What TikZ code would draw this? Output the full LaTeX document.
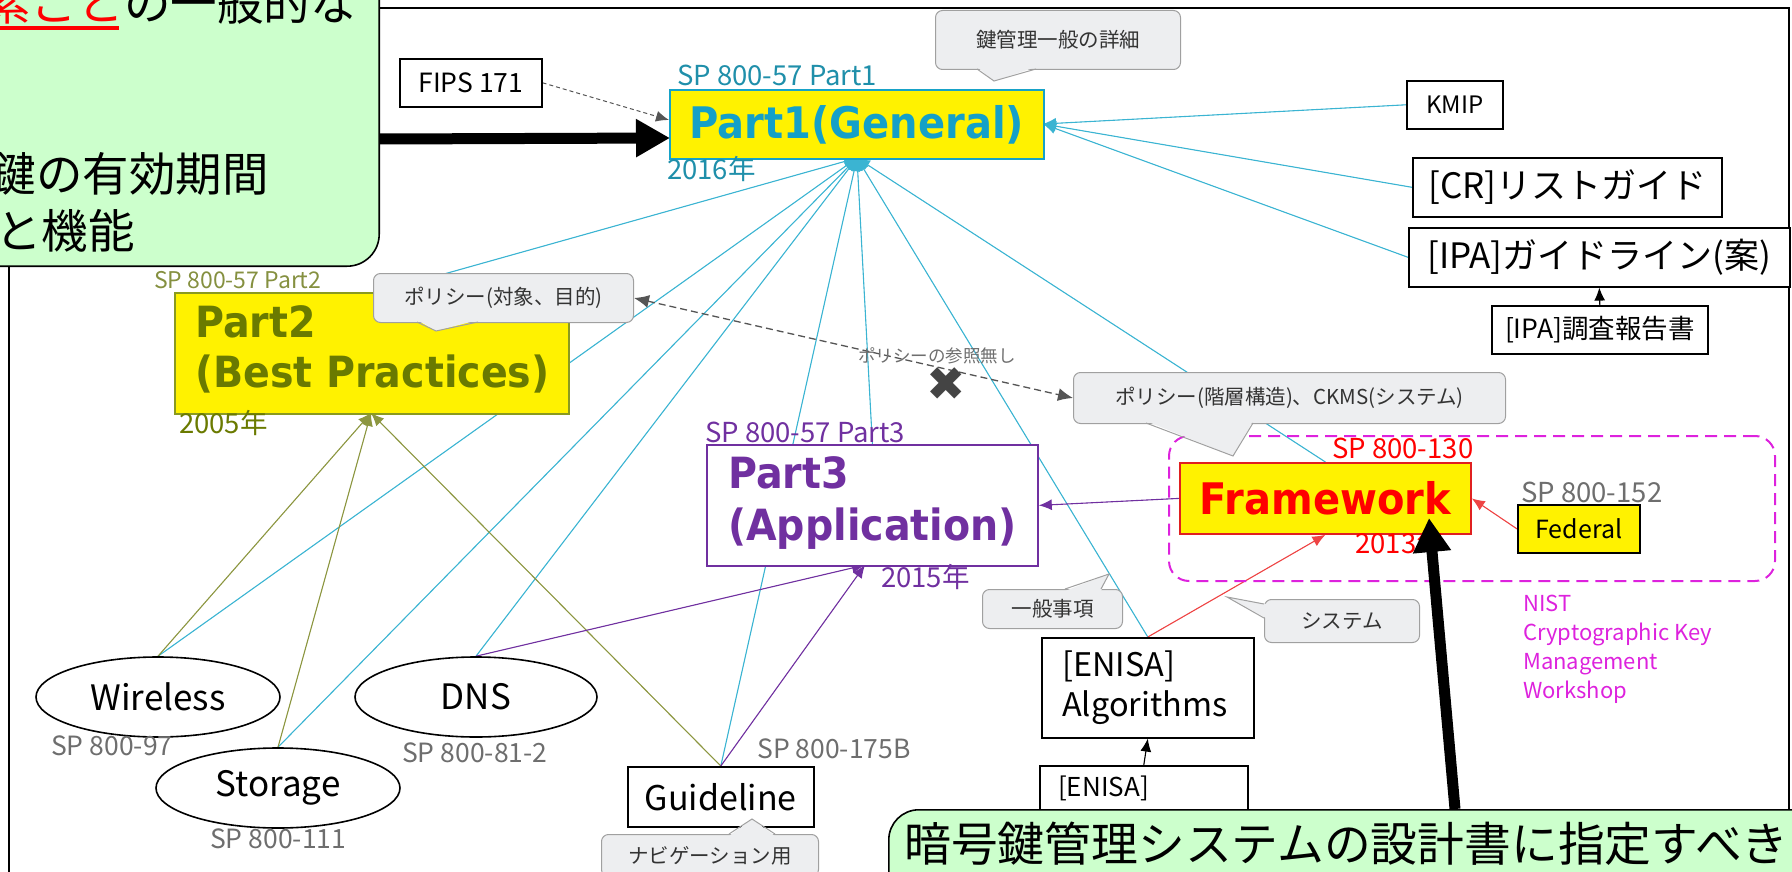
\documentclass[tikz,border=0pt]{standalone}
\usepackage{fontspec}
\setmainfont{Noto Sans CJK JP}
\newfontfamily\tf[FakeStretch=0.92]{DejaVu Sans}
\newfontfamily\dv{DejaVu Sans}
\usetikzlibrary{arrows.meta,shapes.geometric,calc}
\newcommand\fsz[1]{\fontsize{#1}{#1}\selectfont}
\definecolor{tealL}{HTML}{3BB4D2}
\definecolor{p1c}{HTML}{17A2C8}
\definecolor{p1t}{HTML}{14A0C8}
\definecolor{p1l}{HTML}{1F8FAA}
\definecolor{oliveL}{HTML}{8C9640}
\definecolor{p2c}{HTML}{8A9A20}
\definecolor{p2t}{HTML}{6A7A00}
\definecolor{p2l}{HTML}{859040}
\definecolor{purp}{HTML}{7030A0}
\definecolor{redB}{HTML}{E02020}
\definecolor{redL}{HTML}{EE4444}
\definecolor{mag}{HTML}{DD22DD}
\definecolor{labgray}{HTML}{6E6E6E}
\definecolor{cfill}{HTML}{EDEEF0}
\definecolor{cgray}{HTML}{A0A0A0}
\definecolor{ctext}{HTML}{333333}
\definecolor{gfill}{HTML}{CCFFCC}
\definecolor{dgray}{HTML}{555555}
\definecolor{xgray}{HTML}{444444}
\pgfdeclarelayer{bg}
\pgfsetlayers{bg,main}
\begin{document}
\begin{tikzpicture}[x=1pt,y=-1pt,
  box/.style={draw=black, line width=1.6pt, fill=white, inner sep=0pt, anchor=north west, font=\fsz{24}},
  ybox/.style={box, fill=yellow},
  ell/.style={ellipse, draw=black, line width=1.6pt, fill=white, inner sep=0pt, minimum width=244pt, minimum height=80pt, font=\fsz{35}},
  lab/.style={inner sep=0pt, anchor=base west, font=\fsz{26.5}, text=labgray},
  txt/.style={inner sep=0pt, anchor=base west},
  ttl/.style={txt, font=\tf\bfseries\fsz{43}},
  cbox/.style={draw=cgray, fill=cfill, rounded corners=7pt, line width=1pt, inner sep=0pt, anchor=north west, font=\fsz{20.5}, text=ctext},
  ctl/.style={draw=cgray, line width=1pt},
  con/.style={line width=1.1pt, -{Latex[length=13pt,width=11pt]}},
  tl/.style={con, draw=tealL, fill=tealL},
  ol/.style={con, draw=oliveL, fill=oliveL},
  pl/.style={con, draw=purp, fill=purp},
  rl/.style={con, draw=redL, fill=redL},
  bl/.style={con, draw=black, fill=black},
  dl/.style={line width=1.3pt, draw=dgray, dash pattern=on 7pt off 4pt},
  thick arrow/.style={line width=11pt, -{Triangle[length=34pt,width=36pt]}}
]
\useasboundingbox (0,0) rectangle (1792,872);

% ---------- nodes ----------
\node[ybox, draw=p1c, line width=1.8pt, minimum width=374pt, minimum height=69pt, font=\tf\bfseries\fsz{43.5}, text=p1t] (p1) at (669,89) {Part1(General)};
\node[ybox, draw=p2c, line width=1.8pt, minimum width=394pt, minimum height=121pt] (p2) at (174,292) {};
\node[ttl, text=p2t] (p2l1) at (195,337) {Part2};
\node[ttl, text=p2t] (p2l2) at (195,387) {(Best Practices)};
\node[box, draw=purp, line width=1.8pt, minimum width=331pt, minimum height=121pt] (p3) at (706,444) {};
\node[ttl, text=purp] (p3l1) at (728,488) {Part3};
\node[ttl, text=purp] (p3l2) at (728,540) {(Application)};

\node[draw=mag, line width=2pt, dash pattern=on 12pt off 7pt, rounded corners=20pt, minimum width=606pt, minimum height=145pt, anchor=north west, inner sep=0pt] (grp) at (1168,435) {};
\node[ybox, draw=redB, line width=1.8pt, minimum width=291pt, minimum height=71pt, font=\tf\bfseries\fsz{43.5}, text=red] (fw) at (1179,462) {Framework};
\node[ybox, line width=1.8pt, minimum width=122pt, minimum height=48pt, font=\fsz{25}] (fed) at (1517,504) {Federal};

\node[box, minimum width=96pt, minimum height=48pt] (kmip) at (1406,80) {KMIP};
\node[box, minimum width=309pt, minimum height=59pt, font=\fsz{35}] (cr) at (1412,157) {[CR]リストガイド};
\node[box, minimum width=381pt, minimum height=59pt, font=\fsz{35}] (ipa) at (1408,227) {[IPA]ガイドライン(案)};
\node[box, minimum width=216pt, minimum height=48pt, font=\fsz{26.5}] (ipar) at (1491,305) {[IPA]調査報告書};
\node[box, minimum width=142pt, minimum height=48pt, font=\fsz{26.5}] (fips) at (399,58) {FIPS 171};

\node[box, minimum width=212pt, minimum height=100pt] (enisa) at (1041,637) {};
\node[txt, font=\fsz{32.5}] (en1) at (1062,676) {[ENISA]};
\node[txt, font=\fsz{32.5}] (en2) at (1062,716) {Algorithms};
\node[box, minimum width=208pt, minimum height=120pt] (enisa2) at (1039,765) {};
\node[txt, font=\fsz{26}] (en3) at (1058,796) {[ENISA]};

\node[box, minimum width=186pt, minimum height=60pt, font=\fsz{34}] (guide) at (627,766) {Guideline};
\node[ell] (wire) at (158,697) {Wireless};
\node[ell] (stor) at (278,788) {Storage};
\node[ell, minimum width=242pt] (dns) at (476,697) {DNS};

% ---------- labels ----------
\node[lab, text=p1l, font=\fsz{27.5}] (l1) at (677,86) {SP 800-57 Part1};
\node[lab, text=p1l, font=\fsz{27.5}] (y1) at (667,180) {2016年};
\node[lab, text=p2l, font=\fsz{23}] (l2) at (154,288) {SP 800-57 Part2};
\node[lab, text=p2t, font=\fsz{27.5}] (y2) at (179,433) {2005年};
\node[lab, text=purp, font=\fsz{27.5}] (l3) at (705,442) {SP 800-57 Part3};
\node[lab, text=purp, font=\fsz{27.5}] (y3) at (881,587) {2015年};
\node[lab, text=red, font=\fsz{27.5}] (l4) at (1332,458) {SP 800-130};
\node[lab, text=red, font=\fsz{27.5}] (y4) at (1355,553) {2013年};
\node[lab, font=\fsz{27.5}] (l5) at (1521,502) {SP 800-152};
\node[lab] (l6) at (51,755) {SP 800-97};
\node[lab] (l7) at (210,848) {SP 800-111};
\node[lab] (l8) at (402,762) {SP 800-81-2};
\node[lab] (l9) at (757,758) {SP 800-175B};
\node[lab, text=mag, font=\fsz{22}] (n1) at (1523,611) {NIST};
\node[lab, text=mag, font=\fsz{22}] (n2) at (1523,640) {Cryptographic Key};
\node[lab, text=mag, font=\fsz{22}] (n3) at (1523,669) {Management};
\node[lab, text=mag, font=\fsz{22}] (n4) at (1523,698) {Workshop};
\node[inner sep=0pt, font=\fsz{17.5}, text=labgray] (nol) at (937,356) {ポリシーの参照無し};
\node[inner sep=0pt, font=\dv\fsz{47}, text=xgray] (xm) at (946,384) {✖};

% ---------- callouts ----------
\node[cbox, minimum width=245pt, minimum height=59pt] (c1) at (935,10) {鍵管理一般の詳細};
\fill[cfill] (977,67) -- (994,81) -- (1036,67) -- cycle;
\draw[ctl] (977,69) -- (994,81) -- (1036,69);
\node[cbox, minimum width=260pt, minimum height=49pt] (c2) at (373,273) {ポリシー(対象、目的)};
\fill[cfill] (417,320) -- (436,331) -- (478,320) -- cycle;
\draw[ctl] (417,322) -- (436,331) -- (478,322);
\node[cbox, minimum width=432pt, minimum height=51pt] (c3) at (1073,372) {ポリシー(階層構造)、CKMS(システム)};
\fill[cfill] (1146,421) -- (1233,456) -- (1253,421) -- cycle;
\draw[ctl] (1146,423) -- (1233,456) -- (1253,423);
\node[cbox, minimum width=140pt, minimum height=39pt] (c4) at (982,589) {一般事項};
\fill[cfill] (1065,591) -- (1109,574) -- (1101,591) -- cycle;
\draw[ctl] (1065,589) -- (1109,574) -- (1101,589);
\node[cbox, minimum width=155pt, minimum height=43pt] (c5) at (1264,599) {システム};
\fill[cfill] (1266,604) -- (1227,597) -- (1266,618) -- cycle;
\draw[ctl] (1264,604) -- (1227,597) -- (1264,618);
\node[cbox, minimum width=217pt, minimum height=42pt] (c6) at (601,834) {ナビゲーション用};
\fill[cfill] (729,836) -- (752,819) -- (775,836) -- cycle;
\draw[ctl] (729,834) -- (752,819) -- (775,834);

% ---------- connectors (behind) ----------
\coordinate (p1bot) at (857,158);
\coordinate (p1rt) at (1043,124);
\coordinate (p2bot) at (371,413);
\coordinate (p3bot) at (865,565);
\coordinate (p1lt) at (669,120);
\coordinate (p2top) at (380,292);
\begin{pgfonlayer}{bg}
  \draw[line width=1.6pt] (9,8) rectangle (1789,900);
  \draw[tl] (p2top) -- (p1bot);
  \draw[tl] (wire.north) -- (p1bot);
  \draw[tl] (stor.north) -- (p1bot);
  \draw[tl] (dns.north) -- (p1bot);
  \draw[tl] (guide.north) -- (p1bot);
  \draw[tl] (p3.north) -- (p1bot);
  \draw[tl] (enisa.north) -- (p1bot);
  \draw[tl] (fw.north) -- (p1bot);
  \draw[tl] (kmip.west) -- (p1rt);
  \draw[tl] (cr.west) -- (p1rt);
  \draw[tl] (ipa.west) -- (p1rt);
  \draw[ol] (wire.north) -- (p2bot);
  \draw[ol] (stor.north) -- (p2bot);
  \draw[ol] (guide.north) -- (p2bot);
  \draw[pl] (dns.north) -- (p3bot);
  \draw[pl] (guide.north) -- (p3bot);
  \draw[pl] (fw.west) -- (p3.east);
  \draw[rl] (enisa.north) -- (fw.south);
  \draw[rl] (fed.west) -- (fw.east);
  \draw[bl] (ipar.north) -- (ipa.south);
  \draw[bl] (enisa2.north) -- (enisa.south);
  \draw[line width=1pt, draw=dgray, dash pattern=on 4pt off 3pt, -{Latex[length=13pt,width=11pt]}] (fips.east) -- (p1lt);
  \draw[dl, {Latex[length=15pt,width=13pt]}-{Latex[length=15pt,width=13pt]}] (c2.east) -- (c3.west);
\end{pgfonlayer}

% ---------- green boxes ----------
\node[draw=black, fill=gfill, line width=1.6pt, rounded corners=32pt, minimum width=460pt, minimum height=320pt, anchor=south east, inner sep=0pt] (tlg) at (380,267) {};
\node[txt, anchor=base east, font=\fsz{46.5}] (tl1) at (357,21) {\textcolor{red}{要素ごと}の一般的な};
\draw[red, line width=3.5pt] (-30,28) -- (119,28);
\node[txt, anchor=base east, font=\fsz{46.5}] (tl3) at (269,192) {暗号鍵の有効期間};
\node[txt, anchor=base east, font=\fsz{46.5}] (tl4) at (135,248) {鍵のタイプと機能};
\node[draw=black, fill=gfill, line width=1.6pt, rounded corners=30pt, minimum width=980pt, minimum height=140pt, anchor=north west, inner sep=0pt] (brg) at (888,809) {};
\node[txt, font=\fsz{46.8}] (bt) at (904,861) {暗号鍵管理システムの設計書に指定すべきの};

% ---------- thick arrows ----------
\coordinate (a1s) at (380,139);
\coordinate (a1e) at (670,138);
\draw[thick arrow] (a1s) -- (a1e);
\coordinate (a2s) at (1455,809);
\coordinate (a2e) at (1429,518);
\draw[thick arrow] (a2s) -- (a2e);
\end{tikzpicture}
\end{document}
